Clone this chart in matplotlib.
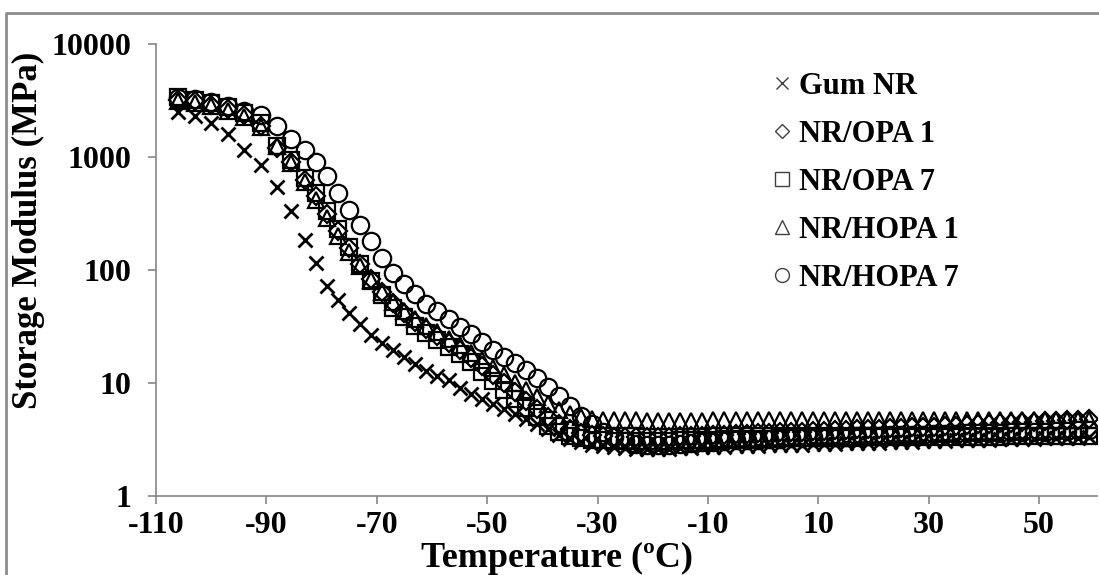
import matplotlib
matplotlib.use("Agg")
import matplotlib.pyplot as plt
from matplotlib.lines import Line2D

plt.rcParams['font.family'] = ['Liberation Serif', 'DejaVu Serif']
plt.rcParams['font.weight'] = 'bold'

# temperature (degC), shared by all samples
temp = [-106, -103, -100, -97, -94, -91, -88, -85.5,
        -83, -81, -79, -77, -75, -73, -71, -69, -67, -65, -63, -61, -59, -57,
        -55, -53, -51, -49, -47, -45, -43, -41, -39, -37, -35, -33, -31, -29,
        -27, -25, -23, -21, -19, -17, -15, -13, -11, -9, -7, -5, -3, -1,
        1, 3, 5, 7, 9, 11, 13, 15, 17, 19, 21, 23, 25, 27, 29, 31, 33, 35,
        37, 39, 41, 43, 45, 47, 49, 51, 53, 55, 57, 59]

gum_nr = [2500, 2300, 2000, 1600, 1150, 850, 540, 330,
          185, 115, 72, 54, 42, 33, 26.5, 22.5, 19.5, 17, 14.6, 12.8, 11.6, 10.6,
          9.1, 8.0, 7.2, 6.5, 5.9, 5.3, 4.8, 4.3, 3.9, 3.5, 3.2, 3.0, 2.85, 2.75,
          2.7, 2.66, 2.63, 2.6, 2.6, 2.62, 2.65, 2.68, 2.7, 2.72, 2.74, 2.76, 2.78, 2.79,
          2.8, 2.82, 2.83, 2.85, 2.86, 2.88, 2.9, 2.92, 2.93, 2.95, 2.97, 2.99, 3.0, 3.02,
          3.04, 3.06, 3.08, 3.1, 3.12, 3.14, 3.15, 3.17, 3.19, 3.2, 3.22, 3.23, 3.25,
          3.27, 3.28, 3.3]

nr_opa1 = [3200, 3100, 2900, 2650, 2350, 1900, 1200, 900,
           620, 450, 310, 220, 155, 112, 84, 64, 51, 42, 35, 30, 26, 22.5,
           19.5, 16.5, 14, 11.8, 10, 8.4, 7.0, 5.9, 5.0, 4.3, 3.9, 3.6, 3.45, 3.38,
           3.33, 3.3, 3.3, 3.3, 3.32, 3.35, 3.38, 3.4, 3.43, 3.46, 3.49, 3.52, 3.55, 3.58,
           3.62, 3.65, 3.68, 3.72, 3.75, 3.78, 3.82, 3.85, 3.88, 3.92, 3.95, 3.98, 4.02, 4.05,
           4.08, 4.12, 4.16, 4.2, 4.25, 4.3, 4.35, 4.4, 4.45, 4.5, 4.55, 4.6, 4.65,
           4.7, 4.75, 4.8]

nr_opa7 = [3400, 3200, 3000, 2750, 2450, 2000, 1250, 950,
           650, 480, 330, 230, 160, 112, 80, 60, 46, 38, 32, 27.5, 24, 21,
           18, 15.2, 12.5, 10.4, 8.7, 7.2, 6.0, 5.0, 4.2, 3.7, 3.4, 3.25, 3.15, 3.1,
           3.08, 3.06, 3.05, 3.05, 3.06, 3.08, 3.1, 3.12, 3.14, 3.16, 3.18, 3.19, 3.2, 3.21,
           3.22, 3.23, 3.24, 3.25, 3.26, 3.27, 3.27, 3.28, 3.29, 3.3, 3.3, 3.31, 3.32, 3.32,
           3.33, 3.33, 3.34, 3.34, 3.35, 3.35, 3.36, 3.36, 3.37, 3.37, 3.38, 3.38, 3.39,
           3.39, 3.4, 3.4]

nr_hopa1 = [3100, 3000, 2850, 2550, 2250, 1850, 1250, 880,
            600, 420, 290, 200, 145, 108, 82, 64, 52, 43, 37, 32, 28, 24.5,
            21.5, 18.5, 16, 13.7, 11.8, 10.1, 8.7, 7.5, 6.5, 5.8, 5.3, 5.0, 4.85, 4.75,
            4.7, 4.68, 4.66, 4.65, 4.65, 4.64, 4.64, 4.65, 4.65, 4.66, 4.66, 4.66, 4.67, 4.67,
            4.67, 4.67, 4.68, 4.68, 4.68, 4.68, 4.68, 4.69, 4.69, 4.69, 4.69, 4.7, 4.7, 4.7,
            4.7, 4.7, 4.71, 4.71, 4.71, 4.72, 4.72, 4.72, 4.73, 4.73, 4.73, 4.74, 4.74,
            4.75, 4.75, 4.75]

nr_hopa7 = [3300, 3250, 3050, 2800, 2550, 2350, 1900, 1450,
            1150, 900, 680, 480, 340, 250, 180, 128, 95, 75, 61, 50, 43, 37,
            31.5, 27, 23, 19.5, 17, 15, 13, 11, 9.2, 7.6, 6.2, 5.1, 4.3, 3.7,
            3.3, 3.05, 2.9, 2.82, 2.8, 2.83, 2.88, 2.93, 2.98, 3.02, 3.06, 3.1, 3.13, 3.16,
            3.19, 3.22, 3.25, 3.28, 3.3, 3.32, 3.34, 3.36, 3.38, 3.4, 3.42, 3.44, 3.46, 3.48,
            3.5, 3.52, 3.54, 3.56, 3.58, 3.6, 3.62, 3.64, 3.66, 3.68, 3.7, 3.72, 3.74,
            3.77, 3.8, 3.83]

labels = ["Gum NR", "NR/OPA 1", "NR/OPA 7", "NR/HOPA 1", "NR/HOPA 7"]
series = [gum_nr, nr_opa1, nr_opa7, nr_hopa1, nr_hopa7]
markers = ["x", "D", "s", "^", "o"]
sizes = [10, 9, 12, 12, 12.5]
widths = [2.0, 1.6, 1.6, 1.6, 1.6]

x_ticks = [-110, -90, -70, -50, -30, -10, 10, 30, 50]
y_ticks = [1, 10, 100, 1000, 10000]

W, H = 1099, 575
fig = plt.figure(figsize=(W / 100, H / 100), dpi=100)
ax = fig.add_axes([156 / W, 1 - 496 / H, 941 / W, 452 / H])

for vals, m, ms, mw in zip(series, markers, sizes, widths):
    ax.plot(temp, vals, linestyle="none", marker=m, ms=ms, mfc="none",
            mec="black", mew=mw)

ax.set_yscale("log")
ax.set_ylim(1, 10000)
ax.set_xlim(-110, 60.5)
ax.yaxis.set_major_locator(matplotlib.ticker.FixedLocator(y_ticks))
ax.yaxis.set_minor_locator(matplotlib.ticker.NullLocator())
ax.set_yticklabels([str(v) for v in y_ticks])
ax.set_xticks(x_ticks)
ax.set_xticklabels([str(v) for v in x_ticks])

gray = "#868686"
for s in ["top", "right"]:
    ax.spines[s].set_visible(False)
for s in ["left", "bottom"]:
    ax.spines[s].set_color(gray)
    ax.spines[s].set_linewidth(1.2)
ax.tick_params(axis="y", direction="out", length=6, width=1.2, color=gray,
               pad=12, labelsize=23)
ax.tick_params(axis="x", direction="out", length=6, width=1.2, color=gray,
               pad=5, labelsize=23)

fig.text(28 / W, 1 - 230 / H, "Storage Modulus (MPa)", rotation=90,
         ha="center", va="center", fontsize=25, fontweight="bold")
fig.text(557 / W, 1 - 558 / H, "Temperature (ºC)", ha="center", va="center",
         fontsize=26, fontweight="bold")

handles = [Line2D([], [], linestyle="none", marker=m, ms=ms * 0.8, mfc="none",
                  mec="#404040", mew=1.0) for m, ms in zip(markers, sizes)]
fig.legend(handles, labels, loc="upper left", bbox_to_anchor=(773 / W, 1 - 72 / H),
           frameon=False, fontsize=22, handlelength=0.6, handletextpad=0.25,
           labelspacing=0.62, borderpad=0, borderaxespad=0)

# chart border
fig.add_artist(Line2D([6 / W, 6 / W, 1.0], [0, 1 - 13 / H, 1 - 13 / H],
                      transform=fig.transFigure, color="#8c8c8c", lw=2))

fig.savefig("out.png", dpi=100)
